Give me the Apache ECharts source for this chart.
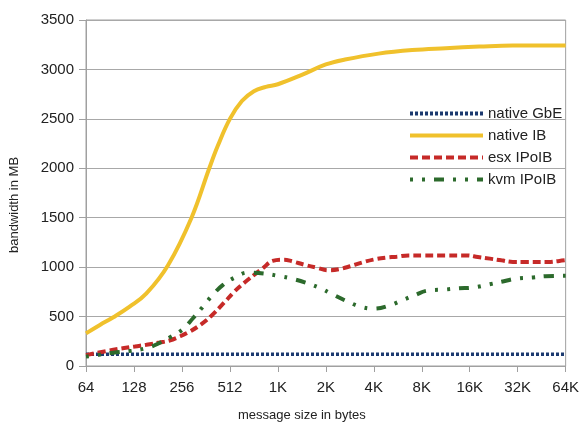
<!DOCTYPE html>
<html>
<head>
<meta charset="utf-8">
<script src="https://cdn.jsdelivr.net/npm/echarts@6/dist/echarts.min.js"></script>
<style>html,body{margin:0;padding:0;background:#fff}#c{width:582px;height:427px}</style>
</head>
<body>
<div id="c"></div>
<script>
// x positions are log2(message size in bytes)
var tickLabels = {6:'64',7:'128',8:'256',9:'512',10:'1K',11:'2K',12:'4K',13:'8K',14:'16K',15:'32K',16:'64K'};

var gbeX = [6, 7, 8, 9, 10, 11, 12, 13, 14, 15, 16];
var gbeY = [120, 120, 120, 120, 120, 120, 120, 120, 120, 120, 120];

var ibX = [6, 6.29, 6.57, 6.91, 7.26, 7.71, 8.2, 8.57, 8.75, 9.0, 9.25, 9.5, 9.75, 10, 10.5, 11, 11.4, 12.1, 12.8, 13.5, 14.2, 14.9, 16];
var ibY = [330, 415, 493, 600, 734, 1019, 1500, 2000, 2230, 2500, 2680, 2780, 2823, 2850, 2945, 3050, 3100, 3160, 3196, 3215, 3231, 3242, 3242];

var esxX = [6, 6.57, 7.02, 7.26, 7.54, 7.74, 7.95, 8.15, 8.4, 8.61, 8.88, 9.09, 9.3, 9.54, 9.68, 9.89, 10.13, 10.3, 10.54, 10.82, 11.05, 11.27, 11.51, 11.75, 11.99, 12.24, 12.48, 12.72, 13.0, 13.5, 13.93, 14.17, 14.42, 14.66, 14.9, 15.14, 15.63, 15.87, 16];
var esxY = [110, 164, 198, 215, 238, 258, 298, 345, 422, 506, 641, 751, 842, 935, 986, 1063, 1076, 1059, 1026, 993, 969, 979, 1009, 1046, 1076, 1096, 1106, 1119, 1119, 1119, 1119, 1103, 1086, 1069, 1053, 1053, 1053, 1063, 1070];

var kvmX = [6, 6.29, 6.57, 6.95, 7.25, 7.5, 7.78, 8.02, 8.23, 8.45, 8.62, 8.85, 9.13, 9.37, 9.71, 10.02, 10.28, 10.59, 10.9, 11.13, 11.43, 11.72, 12.0, 12.31, 12.62, 12.86, 13.1, 13.5, 13.76, 14.09, 14.4, 14.66, 14.98, 15.32, 15.58, 16];
var kvmY = [95, 115, 135, 155, 180, 225, 298, 372, 483, 607, 707, 818, 902, 945, 935, 910, 885, 842, 785, 727, 657, 600, 580, 610, 671, 717, 761, 774, 785, 795, 825, 852, 885, 895, 908, 912];

var names = ['native GbE', 'native IB', 'esx IPoIB', 'kvm IPoIB'];

function pairs(xs, ys) { return xs.map(function (x, i) { return [x, ys[i]]; }); }

var font = '"Liberation Sans", Arial, sans-serif';
var chart = echarts.init(document.getElementById('c'), null, {renderer: 'canvas'});
chart.setOption({
  animation: false,
  backgroundColor: '#ffffff',
  grid: {left: 86, right: 14, top: 20, bottom: 59, show: true, borderColor: '#a0a0a0', borderWidth: 1},
  legend: {
    orient: 'vertical', left: 408, top: 106, padding: 0,
    itemWidth: 73, itemHeight: 14, itemGap: 7,
    itemStyle: {opacity: 0},
    lineStyle: {width: 4},
    textStyle: {fontSize: 15, color: '#222', fontFamily: font},
    data: names
  },
  xAxis: {
    type: 'value', min: 6, max: 16, interval: 1,
    name: 'message size in bytes', nameLocation: 'middle', nameGap: 43,
    nameTextStyle: {fontSize: 13, color: '#222', fontFamily: font, padding: [0, 48, 0, 0]},
    axisLine: {lineStyle: {color: '#a0a0a0'}},
    axisTick: {show: true, inside: false, length: 6, lineStyle: {color: '#a0a0a0'}},
    axisLabel: {fontSize: 15, color: '#222', fontFamily: font, margin: 14,
      formatter: function (v) { return tickLabels[v] || ''; }},
    splitLine: {show: false}
  },
  yAxis: {
    type: 'value', min: 0, max: 3500, interval: 500,
    name: 'bandwidth in MB', nameLocation: 'middle', nameGap: 65,
    nameTextStyle: {fontSize: 13, color: '#222', fontFamily: font, padding: [0, 24, 0, 0]},
    axisLine: {show: true, lineStyle: {color: '#a0a0a0'}},
    axisTick: {show: true, inside: false, length: 7, lineStyle: {color: '#a0a0a0'}},
    axisLabel: {fontSize: 15, color: '#222', fontFamily: font, margin: 12,
      formatter: function (v) { return String(v); }},
    splitLine: {show: true, lineStyle: {color: '#a8a8a8', width: 1}}
  },
  series: [
    {name: names[0], type: 'line', data: pairs(gbeX, gbeY), symbol: 'none', smooth: false,
      color: '#1c3a70', lineStyle: {width: 3.5, color: '#1c3a70', type: [3, 2]}, z: 2},
    {name: names[1], type: 'line', data: pairs(ibX, ibY), symbol: 'none', smooth: 0.4,
      color: '#f0c12c', lineStyle: {width: 4, color: '#f0c12c', type: 'solid'}, z: 3},
    {name: names[2], type: 'line', data: pairs(esxX, esxY), symbol: 'none', smooth: 0.4,
      color: '#c62a28', lineStyle: {width: 4, color: '#c62a28', type: [8, 4]}, z: 4},
    {name: names[3], type: 'line', data: pairs(kvmX, kvmY), symbol: 'none', smooth: 0.4,
      color: '#2c6a2c', lineStyle: {width: 4, color: '#2c6a2c', type: [3, 9, 3, 9, 10, 9]}, z: 5}
  ]
});
</script>
</body>
</html>
